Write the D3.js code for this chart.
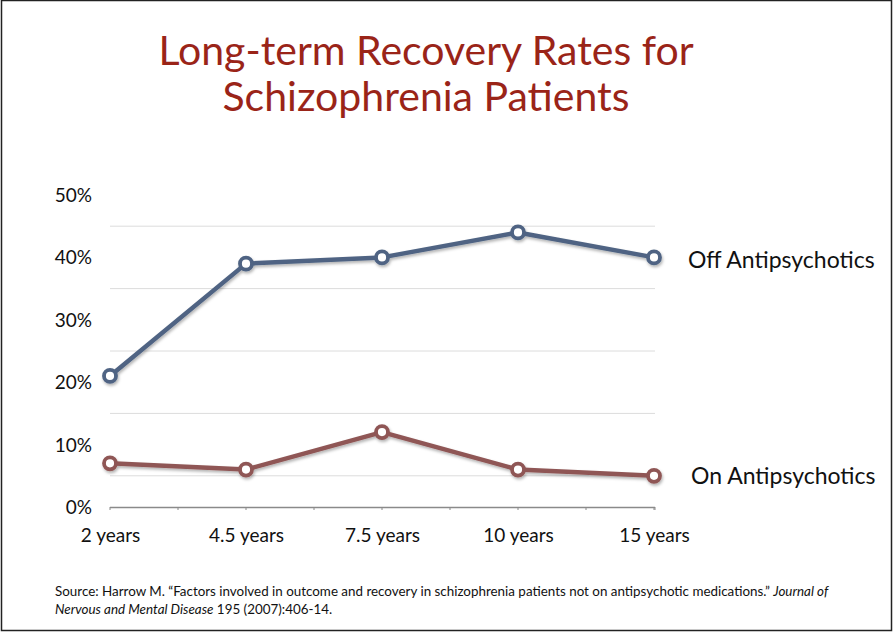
<!DOCTYPE html>
<html>
<head>
<meta charset="utf-8">
<script src="https://cdn.jsdelivr.net/npm/d3@7"></script>
<style>
  body { margin: 0; background: #fff; }
  svg text { font-family: 'Lato', 'Open Sans', sans-serif; }
</style>
</head>
<body>
<div id="chart"></div>
<script>
const categories = ['2 years', '4.5 years', '7.5 years', '10 years', '15 years'];
const offValues = [21, 39, 40, 44, 40];
const onValues = [7, 6, 12, 6, 5];
const yTicks = [0, 10, 20, 30, 40, 50];
const gridValues = [5, 15, 25, 35, 45];
const seriesNames = ['Off Antipsychotics', 'On Antipsychotics'];

const W = 893, H = 632;
const svg = d3.select('#chart').append('svg').attr('width', W).attr('height', H);

// drop shadow like the slide
const defs = svg.append('defs');
const f = defs.append('filter').attr('id', 'shadow').attr('x', '-10%').attr('y', '-30%').attr('width', '120%').attr('height', '160%');
f.append('feDropShadow').attr('dx', 1).attr('dy', 2).attr('stdDeviation', 1.5)
  .attr('flood-color', '#000').attr('flood-opacity', 0.3);

// frame
svg.append('rect').attr('x', 1.5).attr('y', 0.5).attr('width', W - 3).attr('height', H - 2)
  .attr('fill', 'none').attr('stroke', '#222').attr('stroke-width', 1.5);

// title
const title = svg.append('text')
  .attr('text-anchor', 'middle')
  .attr('fill', '#9a2418')
  .attr('font-size', '41px');
title.append('tspan').attr('x', 426).attr('y', 65).text('Long-term Recovery Rates for');
title.append('tspan').attr('x', 426).attr('y', 111).text('Schizophrenia Patients');

// scales
const x = d3.scalePoint().domain(categories).range([110, 654]);
const y = d3.scaleLinear().domain([0, 50]).range([507, 195]);

// gridlines
svg.append('g').selectAll('line').data(gridValues).join('line')
  .attr('x1', 110).attr('x2', 655)
  .attr('y1', d => y(d)).attr('y2', d => y(d))
  .attr('stroke', '#dcdcdc').attr('stroke-width', 1);

// y labels
svg.append('g').selectAll('text').data(yTicks).join('text')
  .attr('x', 92).attr('y', d => y(d) + 7)
  .attr('text-anchor', 'end')
  .attr('font-size', '19px')
  .attr('fill', '#111')
  .text(d => d + '%');

// x axis baseline
const xAxis = d3.axisBottom(x).tickSize(0).tickPadding(22);
const xg = svg.append('g').attr('transform', 'translate(0,' + y(0) + ')').call(xAxis);
xg.select('.domain').attr('d', 'M110,0.5H655').attr('stroke', '#8a8a8a').attr('stroke-width', 1.5);
xg.selectAll('text').attr('font-size', '19px').attr('fill', '#111').attr('font-family', 'Lato, sans-serif');
// small ticks at halfway
const step = x.step();
const halfTicks = d3.range(0, categories.length * 2 - 1).map(i => 110 + i * step / 2).concat([655]);
xg.selectAll('line.minor').data(halfTicks).join('line').attr('class', 'minor')
  .attr('x1', d => d).attr('x2', d => d).attr('y1', 0).attr('y2', 3)
  .attr('stroke', '#8a8a8a').attr('stroke-width', 1);

// lines
const line = d3.line().x((d, i) => x(categories[i])).y(d => y(d));
const series = [
  { name: seriesNames[0], values: offValues, color: '#4f6483' },
  { name: seriesNames[1], values: onValues, color: '#8f5655' }
];
series.forEach(s => {
  const g = svg.append('g').attr('filter', 'url(#shadow)');
  g.append('path').attr('d', line(s.values)).attr('fill', 'none')
    .attr('stroke', s.color).attr('stroke-width', 4.5).attr('stroke-linejoin', 'round');
  g.selectAll('circle').data(s.values).join('circle')
    .attr('cx', (d, i) => x(categories[i])).attr('cy', d => y(d))
    .attr('r', 6).attr('fill', '#fff').attr('stroke', s.color).attr('stroke-width', 3.8);
});

// series labels
svg.append('text').attr('x', 688).attr('y', 268).attr('font-size', '23px').attr('fill', '#111').text(seriesNames[0]);
svg.append('text').attr('x', 691).attr('y', 484).attr('font-size', '23px').attr('fill', '#111').text(seriesNames[1]);

// source note
const src = svg.append('text').attr('font-size', '13.4px').attr('fill', '#111');
src.append('tspan').attr('x', 55).attr('y', 596)
  .text('Source: Harrow M. \u201cFactors involved in outcome and recovery in schizophrenia patients not on antipsychotic medications.\u201d ');
src.append('tspan').attr('font-style', 'italic').text('Journal of');
const src2 = svg.append('text').attr('font-size', '13.4px').attr('fill', '#111').attr('x', 55).attr('y', 614);
src2.append('tspan').attr('font-style', 'italic').text('Nervous and Mental Disease');
src2.append('tspan').text(' 195 (2007):406-14.');
</script>
</body>
</html>
